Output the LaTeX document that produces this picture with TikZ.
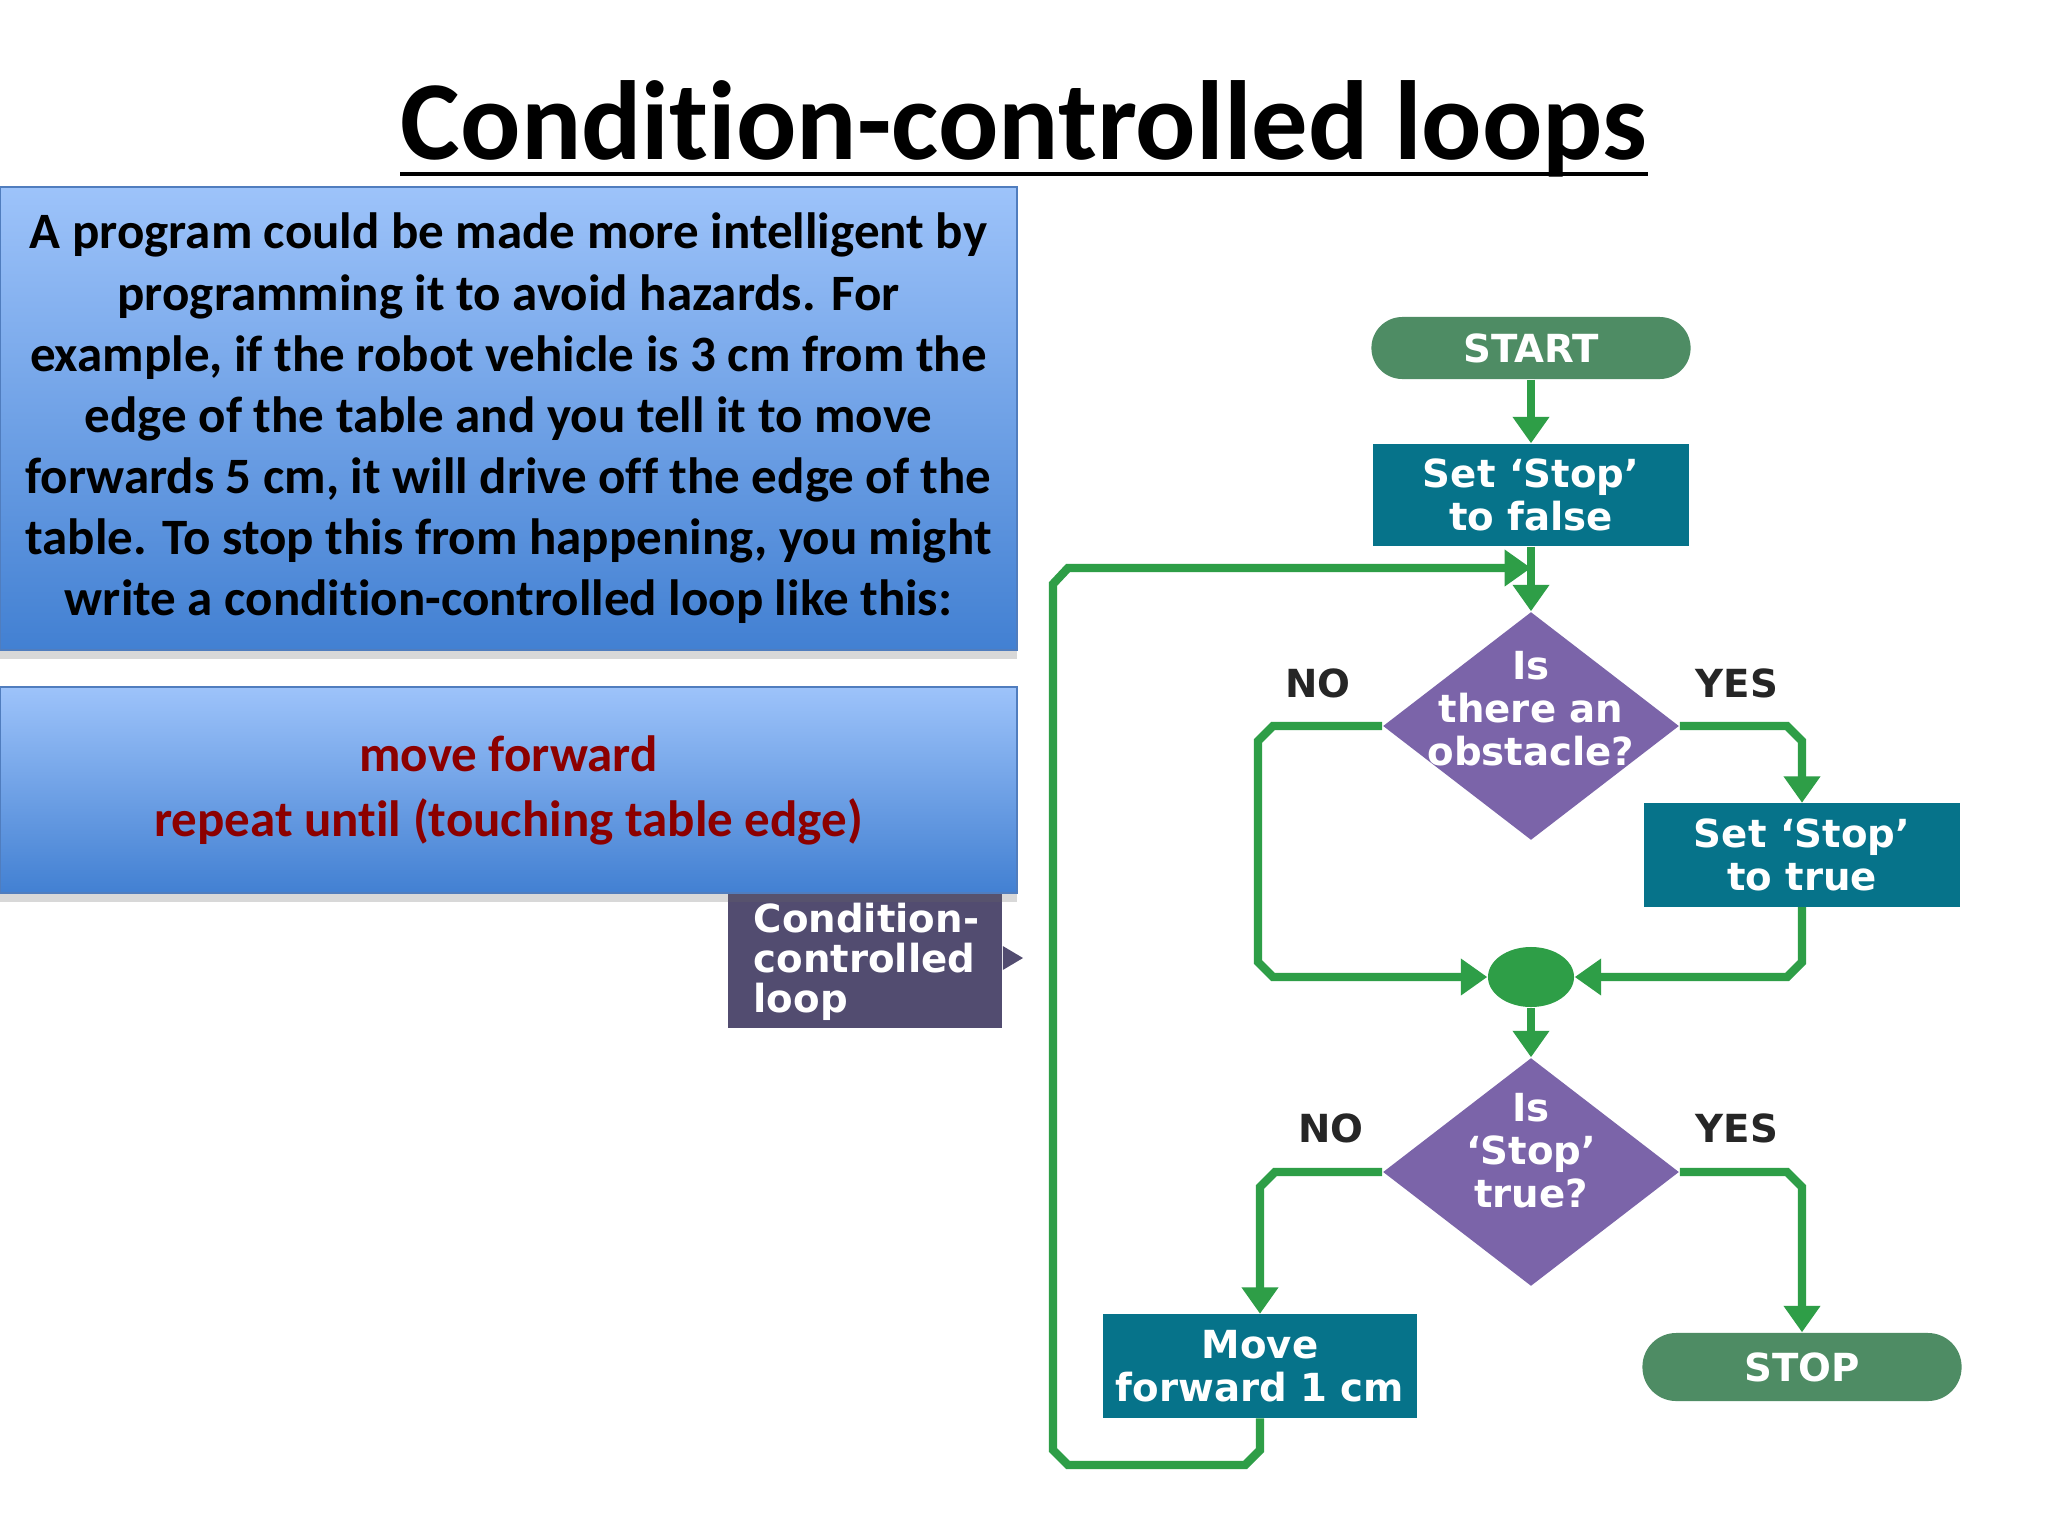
\documentclass[tikz,border=0pt]{standalone}
\usepackage{fontspec}
\setmainfont{Carlito}[Ligatures={NoCommon,NoContextual,NoRare},Contextuals=NoAlternate]
\newfontfamily\flowfont{DejaVu Sans}
\usetikzlibrary{shapes.geometric,arrows.meta,shadows,calc}
\newcommand{\nolig}{\kern0pt }
\definecolor{lgreen}{RGB}{46,158,71}
\definecolor{pillgreen}{RGB}{78,140,100}
\definecolor{tealbox}{RGB}{6,115,138}
\definecolor{diapurple}{RGB}{123,100,169}
\definecolor{callcol}{RGB}{82,76,112}
\definecolor{boxtop}{RGB}{157,195,250}
\definecolor{boxbot}{RGB}{66,128,210}
\definecolor{boxline}{RGB}{80,125,190}
\definecolor{codered}{RGB}{140,0,0}
\tikzset{
  bluebox/.style={draw=boxline, line width=0.5pt, top color=boxtop, bottom color=boxbot,
    drop shadow={shadow xshift=0pt, shadow yshift=-2.5pt, opacity=0.25, fill=black!60},
    align=center, inner sep=0pt, font=\fontsize{14.5}{17.4}\selectfont\bfseries},
  flowtext/.style={font=\flowfont\bfseries\fontsize{11}{12.2}\selectfont, align=center, inner sep=0pt},
  pill/.style={flowtext, fill=pillgreen, text=white, rounded corners=8.8pt},
  procbox/.style={flowtext, fill=tealbox, text=white},
  dia/.style={diamond, fill=diapurple, inner sep=0pt},
  yn/.style={flowtext, text=black!85},
  conn/.style={draw=lgreen, line width=2.4pt, -{Triangle[width=10pt,length=7.5pt]}},
  plain/.style={draw=lgreen, line width=2.4pt}
}
\begin{document}
\begin{tikzpicture}[x=0.01cm,y=-0.01cm]
\useasboundingbox[fill=white] (0,0) rectangle (2048,1536);

% title
\node[anchor=base, inner sep=0pt, font=\fontsize{32}{38}\selectfont\bfseries] (title) at (1024,159) {Condit\nolig ion-controlled loops};
\coordinate (ul) at (0,174);
\draw[line width=1.4pt] (title.west |- ul) -- (title.east |- ul);

% callout (drawn before box 2 so its top is hidden)
\node[fill=callcol, minimum width=2.74cm, minimum height=1.48cm, inner sep=0pt] (call) at (865,954) {};
\fill[callcol] (call.east |- 0,946) -- (1023,958) -- (call.east |- 0,970) -- cycle;
\node[anchor=west, inner sep=0pt, text=white, align=left, font=\flowfont\bfseries\fontsize{11}{11.4}\selectfont] (calltext) at (753,962) {Condition-\\controlled\\loop};

% text boxes
\node[bluebox, minimum width=10.17cm, minimum height=4.63cm] (box1) at (508.5,418.5)
  {A program could be made more intelligent by\\
   programming it to avoid hazards. For\\
   example, if the robot vehicle is 3 cm from the\\
   edge of the table and you tell it to move\\
   forwards 5 cm, it will drive off the edge of the\\
   table. To stop this from happening, you might\\
   write a condit\nolig ion-controlled loop like this:};
\node[bluebox, minimum width=10.17cm, minimum height=2.06cm, text=codered, font=\fontsize{14.5}{18.5}\selectfont\bfseries] (box2) at (508.5,790)
  {move forward\\repeat unt\nolig il (touching table edge)};

% flowchart nodes
\node[pill, minimum width=3.19cm, minimum height=0.62cm] (start) at (1531,348) {START};
\node[procbox, minimum width=3.16cm, minimum height=1.02cm] (setf) at (1531,495) {Set ‘Stop’\\to false};
\node[dia, minimum width=2.96cm, minimum height=2.28cm] (d1) at (1531,726) {};
\node[flowtext, text=white] at ([yshift=5pt]d1.center) {Is\\there an\\obstacle?};
\node[yn] (no1) at (1318,683) {NO};
\node[yn] (yes1) at (1737,683) {YES};
\node[procbox, minimum width=3.16cm, minimum height=1.03cm] (sett) at (1802,855) {Set ‘Stop’\\to true};
\node[ellipse, fill=lgreen, minimum width=0.86cm, minimum height=0.6cm, inner sep=0pt] (merge) at (1531,977) {};
\node[dia, minimum width=2.96cm, minimum height=2.28cm] (d2) at (1531,1172) {};
\node[flowtext, text=white] at ([yshift=6pt]d2.center) {Is\\‘Stop’\\true?};
\node[yn] (no2) at (1331,1128) {NO};
\node[yn] (yes2) at (1737,1128) {YES};
\node[procbox, minimum width=3.14cm, minimum height=1.03cm] (move) at (1260,1366) {Move\\forward 1 cm};
\node[pill, minimum width=3.19cm, minimum height=0.68cm, rounded corners=9.6pt] (stop) at (1802,1367) {STOP};

\coordinate (loopin) at (1531,568);

% connectors
\draw[conn] (start.south) -- (setf.north);
\draw[conn] (setf.south) -- (d1.north);
\path[conn] (d1.west) -- (1273,726) -- (1258,741) -- (1258,962) -- (1273,977) -- (merge.west);
\path[conn] (d1.east) -- (1787,726) -- (1802,741) -- (sett.north);
\path[conn] (sett.south) -- (1802,962) -- (1787,977) -- (merge.east);
\draw[conn] (merge.south) -- (d2.north);
\path[conn] (d2.west) -- (1275,1172) -- (1260,1187) -- (move.north);
\path[conn] (d2.east) -- (1787,1172) -- (1802,1187) -- (stop.north);
\path[conn] (move.south) -- (1260,1450) -- (1245,1465) -- (1068,1465) -- (1053,1450) -- (1053,584) -- (1068,568) -- (loopin);
\end{tikzpicture}
\end{document}
